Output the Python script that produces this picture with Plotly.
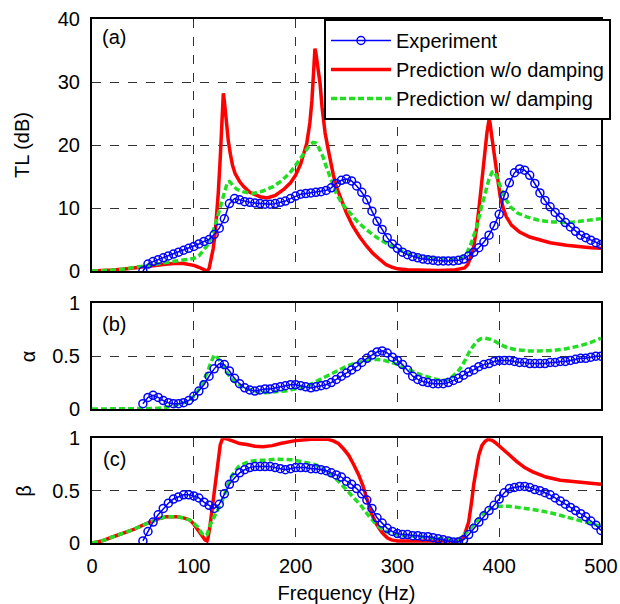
import plotly.graph_objects as go

# ---------------- data ----------------
exp_freq = list(range(50, 505, 5))
exp_tl = [0.0, 1.1, 1.5, 1.8, 2.1, 2.4, 2.7, 3.0, 3.3, 3.6,
          3.9, 4.3, 4.7, 5.0, 5.8, 6.8, 8.3, 10.7, 11.5, 11.3,
          11.0, 10.9, 10.8, 10.7, 10.6, 10.6, 10.7, 10.9, 11.1, 11.5,
          11.9, 12.2, 12.3, 12.4, 12.5, 12.6, 12.8, 13.2, 13.9, 14.4,
          14.6, 14.3, 13.5, 12.5, 11.3, 9.5, 7.9, 6.6, 5.3, 4.3,
          3.6, 3.0, 2.6, 2.3, 2.1, 1.9, 1.8, 1.7, 1.6, 1.6,
          1.6, 1.6, 1.7, 1.9, 2.4, 3.0, 3.7, 4.6, 5.7, 7.2,
          9.0, 12.0, 14.0, 15.6, 16.2, 16.0, 15.2, 13.9, 12.4, 11.2,
          10.2, 9.3, 8.5, 7.7, 7.0, 6.3, 5.7, 5.3, 4.9, 4.5,
          4.2]
exp_alpha = [0.05, 0.11, 0.13, 0.11, 0.08, 0.06, 0.05, 0.05, 0.06, 0.08,
             0.12, 0.17, 0.23, 0.31, 0.38, 0.43, 0.42, 0.36, 0.29, 0.24,
             0.20, 0.18, 0.17, 0.18, 0.19, 0.19, 0.20, 0.21, 0.22, 0.23,
             0.23, 0.22, 0.21, 0.20, 0.21, 0.22, 0.23, 0.25, 0.28, 0.31,
             0.34, 0.37, 0.40, 0.44, 0.48, 0.51, 0.54, 0.55, 0.53, 0.49,
             0.46, 0.42, 0.37, 0.31, 0.28, 0.26, 0.25, 0.24, 0.24, 0.24,
             0.25, 0.27, 0.29, 0.32, 0.35, 0.37, 0.40, 0.42, 0.43, 0.45,
             0.46, 0.46, 0.46, 0.45, 0.44, 0.44, 0.43, 0.43, 0.43, 0.43,
             0.44, 0.44, 0.45, 0.45, 0.46, 0.47, 0.48, 0.48, 0.49, 0.50,
             0.50]
exp_beta = [0.02, 0.11, 0.20, 0.27, 0.33, 0.38, 0.42, 0.44, 0.46, 0.46,
            0.45, 0.43, 0.39, 0.36, 0.33, 0.37, 0.47, 0.56, 0.62, 0.67,
            0.70, 0.72, 0.73, 0.73, 0.73, 0.73, 0.72, 0.71, 0.70, 0.71,
            0.72, 0.72, 0.72, 0.71, 0.71, 0.70, 0.69, 0.67, 0.65, 0.63,
            0.59, 0.56, 0.52, 0.47, 0.41, 0.33, 0.24, 0.19, 0.14, 0.11,
            0.09, 0.08, 0.08, 0.07, 0.07, 0.06, 0.06, 0.05, 0.04, 0.03,
            0.02, 0.01, 0.01, 0.03, 0.08, 0.14, 0.20, 0.26, 0.31, 0.36,
            0.42, 0.48, 0.52, 0.53, 0.54, 0.54, 0.53, 0.51, 0.50, 0.48,
            0.46, 0.43, 0.40, 0.37, 0.34, 0.31, 0.28, 0.25, 0.21, 0.17,
            0.12]

tl_nodamp = [(0, 0), (10, 0.05), (20, 0.15), (30, 0.3), (40, 0.45), (50, 0.65), (60, 0.85),
             (70, 1.05), (80, 1.2), (90, 1.2), (100, 0.9), (105, 0.6), (110, 0.2), (113, 0.0),
             (115, 0.4), (117, 1.7), (119, 3.5), (121, 6), (123, 9.5), (124, 12.3), (126, 18),
             (128, 25), (129, 28.2), (130, 27), (132, 23), (134, 20.5), (136, 18.5), (138, 16.8),
             (140.5, 15.5), (145, 14.2), (149, 13.4), (155, 12.5), (165, 11.8), (172, 11.6),
             (180, 12.0), (188, 12.9), (195, 14.0), (200, 15.2), (205, 17), (211, 20.3),
             (214, 23.5), (216, 27), (218, 32.5), (219, 35.3), (220, 34.5), (222, 32), (224, 29.8),
             (226, 26), (229, 21.9), (232, 19.3), (234, 17.6), (237, 15.3), (240, 13.4),
             (245, 11.2), (250, 9.2), (256, 7.2), (263, 5.4), (270, 3.9), (276, 2.8), (283, 1.8),
             (289, 1.0), (295, 0.6), (300, 0.35), (310, 0.2), (320, 0.15), (340, 0.1),
             (355, 0.15), (362, 0.3), (366, 0.5), (369, 1.0), (372, 2.2), (375, 3.9), (378, 7),
             (381, 11.3), (384, 16), (386, 19.2), (388, 22), (390, 24), (391, 23.5), (393, 21),
             (396, 17.6), (398, 15), (401, 11.8), (404, 10), (407, 8.6), (412, 7.3), (420, 6.2),
             (430, 5.4), (440, 4.9), (450, 4.5), (466, 4.1), (480, 3.8), (490, 3.7), (500, 3.6)]
tl_damp = [(0, 0), (10, 0.05), (20, 0.15), (30, 0.3), (40, 0.5), (50, 0.7), (60, 1.0), (70, 1.3),
           (80, 1.5), (90, 1.7), (100, 2.0), (105, 2.4), (109, 3.1), (113, 4.0), (116, 4.9),
           (119, 6.2), (121, 7.3), (124, 9), (126, 10.2), (129, 12), (131, 13.2), (133, 14.1),
           (135, 14.2), (138, 13.6), (142, 13.0), (148, 12.6), (158, 12.3), (168, 12.7),
           (178, 13.4), (186, 14.3), (194, 15.5), (201, 17), (208, 18.7), (213, 19.8),
           (217, 20.4), (220, 20.3), (223, 19.5), (227, 18.1), (230, 16.6), (234, 15.0),
           (237, 13.6), (240, 12.3), (246, 10.6), (253, 9.2), (261, 7.8), (270, 6.5), (280, 5.3),
           (289, 4.4), (300, 3.5), (309, 2.8), (320, 2.3), (335, 2.0), (350, 1.9), (358, 1.9),
           (363, 2.2), (368, 2.8), (372, 4.2), (375, 5.5), (378, 7.0), (382, 9.8), (386, 12.3),
           (390, 14.6), (393, 15.7), (395, 15.8), (397, 15.2), (401, 13.4), (405, 11.8),
           (411, 10.2), (418, 9.2), (427, 8.6), (440, 8.0), (453, 7.8), (465, 7.7), (473, 7.8),
           (485, 8.0), (500, 8.3)]
alpha_damp = [(0, 0), (20, 0), (40, 0), (60, 0.005), (70, 0.01), (80, 0.03), (90, 0.06), (96, 0.09),
              (101, 0.13), (106, 0.2), (110, 0.28), (113, 0.34), (116, 0.42), (118, 0.47),
              (120, 0.51), (122, 0.5), (124, 0.48), (126, 0.45), (129, 0.4), (132, 0.35),
              (137, 0.29), (142, 0.24), (148, 0.21), (153, 0.19), (162, 0.16), (171, 0.155),
              (181, 0.16), (190, 0.17), (199, 0.19), (208, 0.21), (216, 0.24), (224, 0.28),
              (232, 0.32), (240, 0.36), (249, 0.40), (257, 0.43), (265, 0.45), (272, 0.465),
              (278, 0.47), (285, 0.465), (291, 0.45), (298, 0.43), (304, 0.40), (314, 0.36),
              (324, 0.32), (334, 0.29), (343, 0.27), (348, 0.275), (353, 0.3), (358, 0.34),
              (363, 0.4), (367, 0.47), (370, 0.53), (374, 0.59), (378, 0.64), (382, 0.665),
              (386, 0.67), (391, 0.66), (396, 0.64), (401, 0.61), (408, 0.58), (417, 0.56),
              (428, 0.55), (440, 0.55), (453, 0.555), (466, 0.57), (480, 0.6), (490, 0.63),
              (500, 0.67)]
beta_nodamp = [(0, 0), (10, 0.02), (18, 0.05), (30, 0.09), (41, 0.13), (50, 0.17), (57, 0.2),
               (65, 0.23), (73, 0.25), (83, 0.25), (90, 0.24), (96, 0.22), (100, 0.18),
               (104, 0.13), (108, 0.07), (111, 0.03), (113, 0.02), (114, 0.05), (116, 0.17),
               (118, 0.32), (119, 0.4), (121, 0.56), (123, 0.71), (125, 0.87), (126, 0.94),
               (128, 0.99), (130, 1.0), (134, 0.99), (139, 0.97), (145, 0.95), (152, 0.94),
               (160, 0.925), (168, 0.92), (177, 0.93), (185, 0.95), (193, 0.965), (201, 0.98),
               (215, 0.99), (225, 0.99), (232, 0.99), (237, 0.975), (242, 0.95), (247, 0.9),
               (252, 0.84), (257, 0.75), (262, 0.65), (266, 0.55), (269, 0.46), (272, 0.36),
               (275, 0.27), (280, 0.17), (285, 0.1), (290, 0.05), (294, 0.03), (300, 0.02),
               (314, 0.02), (330, 0.02), (347, 0.02), (356, 0.02), (363, 0.03), (366, 0.08),
               (368, 0.14), (370, 0.2), (373, 0.4), (375, 0.56), (378, 0.73), (380, 0.84),
               (383, 0.93), (386, 0.97), (389, 0.99), (393, 0.98), (396, 0.96), (401, 0.92),
               (409, 0.85), (417, 0.78), (425, 0.72), (433, 0.68), (446, 0.63), (460, 0.6),
               (480, 0.58), (500, 0.56)]
beta_damp = [(0, 0), (10, 0.02), (18, 0.05), (30, 0.09), (41, 0.13), (50, 0.17), (57, 0.2),
             (65, 0.23), (73, 0.25), (83, 0.25), (90, 0.24), (96, 0.22), (100, 0.19), (104, 0.15),
             (108, 0.09), (111, 0.07), (113, 0.08), (116, 0.17), (120, 0.25), (123, 0.3),
             (126, 0.36), (129, 0.43), (132, 0.52), (136, 0.62), (140, 0.68), (144, 0.73),
             (150, 0.76), (155, 0.78), (164, 0.79), (172, 0.79), (180, 0.8), (188, 0.8),
             (196, 0.795), (204, 0.78), (212, 0.765), (219, 0.75), (226, 0.71), (232, 0.67),
             (239, 0.62), (245, 0.56), (251, 0.5), (258, 0.43), (264, 0.36), (271, 0.27),
             (278, 0.19), (285, 0.13), (291, 0.1), (298, 0.08), (315, 0.065), (330, 0.05),
             (345, 0.04), (356, 0.03), (361, 0.04), (366, 0.08), (371, 0.13), (376, 0.19),
             (381, 0.25), (386, 0.3), (392, 0.33), (399, 0.35), (410, 0.35), (420, 0.34),
             (433, 0.32), (450, 0.29), (466, 0.25), (483, 0.21), (500, 0.16)]

x_ticks = [0, 100, 200, 300, 400, 500]
tl_ticks = [0, 10, 20, 30, 40]
ab_ticks = [0, 0.5, 1]
ab_ticklabels = ["0", "0.5", "1"]

assert len(exp_tl) == len(exp_freq) == len(exp_alpha) == len(exp_beta)

# ---------------- style ----------------
BLUE = "#0000FF"
RED = "#FF0000"
GREEN = "#22DD22"
FONT = "Liberation Sans, Arial, sans-serif"


def unzip(pairs):
    return [p[0] for p in pairs], [p[1] for p in pairs]


fig = go.Figure()


def add_red(pairs, ax, show):
    x, y = unzip(pairs)
    fig.add_trace(go.Scatter(x=x, y=y, mode="lines", name="Prediction w/o damping",
                             line=dict(color=RED, width=3.5), xaxis="x" + ax, yaxis="y" + ax,
                             showlegend=show, legendrank=2, legendgroup="r"))


def add_green(pairs, ax, show):
    x, y = unzip(pairs)
    fig.add_trace(go.Scatter(x=x, y=y, mode="lines", name="Prediction w/ damping",
                             line=dict(color=GREEN, width=3.5, dash="6px,3px"),
                             xaxis="x" + ax, yaxis="y" + ax,
                             showlegend=show, legendrank=3, legendgroup="g"))


def add_exp(y, ax, show):
    fig.add_trace(go.Scatter(x=exp_freq, y=y, mode="lines+markers", name="Experiment",
                             line=dict(color=BLUE, width=1.5),
                             marker=dict(symbol="circle-open", size=8, color=BLUE,
                                         line=dict(width=1.5, color=BLUE)),
                             xaxis="x" + ax, yaxis="y" + ax,
                             showlegend=show, legendrank=1, legendgroup="b"))


add_red(tl_nodamp, "", True)
add_green(tl_damp, "", True)
add_exp(exp_tl, "", True)

add_green(alpha_damp, "2", False)
add_exp(exp_alpha, "2", False)

add_red(beta_nodamp, "3", False)
add_green(beta_damp, "3", False)
add_exp(exp_beta, "3", False)

grid = dict(showgrid=True, gridcolor="#333333", gridwidth=1, griddash="dash",
            showline=True, linecolor="black", linewidth=2, mirror=True,
            zeroline=False, ticks="outside", tickcolor="rgba(0,0,0,0)",
            tickfont=dict(family=FONT, size=20, color="black"))

xcommon = dict(range=[0, 500], tickvals=x_ticks, **grid)
fig.update_layout(
    xaxis=dict(domain=[0, 1], anchor="y", showticklabels=False, ticklen=4, **xcommon),
    xaxis2=dict(domain=[0, 1], anchor="y2", showticklabels=False, ticklen=4, **xcommon),
    xaxis3=dict(domain=[0, 1], anchor="y3", showticklabels=True, ticklen=4,
                title=dict(text="Frequency (Hz)", font=dict(family=FONT, size=20, color="black"),
                           standoff=22),
                **xcommon),
    yaxis=dict(domain=[0.519, 1.0], anchor="x", range=[0, 40], tickvals=tl_ticks, ticklen=6, **grid),
    yaxis2=dict(domain=[0.2557, 0.4574], anchor="x2", range=[0, 1], tickvals=ab_ticks,
                ticktext=ab_ticklabels, ticklen=6, **grid),
    yaxis3=dict(domain=[0.0, 0.1998], anchor="x3", range=[0, 1], tickvals=ab_ticks,
                ticktext=ab_ticklabels, ticklen=6, **grid),
)

annots = [
    dict(text="TL (dB)", x=0, y=0.7595, xshift=-70, textangle=-90),
    dict(text="α", x=0, y=0.3565, xshift=-64, textangle=-90),
    dict(text="β", x=0, y=0.0999, xshift=-68, textangle=-90),
    dict(text="(a)", x=0, y=1.0, xshift=22, yshift=-18, textangle=0),
    dict(text="(b)", x=0, y=0.4574, xshift=22, yshift=-21, textangle=0),
    dict(text="(c)", x=0, y=0.1998, xshift=22, yshift=-21, textangle=0),
]
for a in annots:
    fig.add_annotation(xref="paper", yref="paper", showarrow=False,
                       font=dict(family=FONT, size=20, color="black"),
                       xanchor="center", yanchor="middle", **a)

fig.update_layout(
    width=620, height=604,
    margin=dict(l=92, r=19, t=19, b=61, autoexpand=False),
    paper_bgcolor="white", plot_bgcolor="white",
    font=dict(family=FONT, size=20, color="black"),
    legend=dict(x=0.4558, y=1.0, xanchor="left", yanchor="top", bgcolor="white",
                bordercolor="black", borderwidth=2, font=dict(family=FONT, size=20, color="black"),
                tracegroupgap=0, itemwidth=60),
    showlegend=True,
)

fig.write_html("out.html")
